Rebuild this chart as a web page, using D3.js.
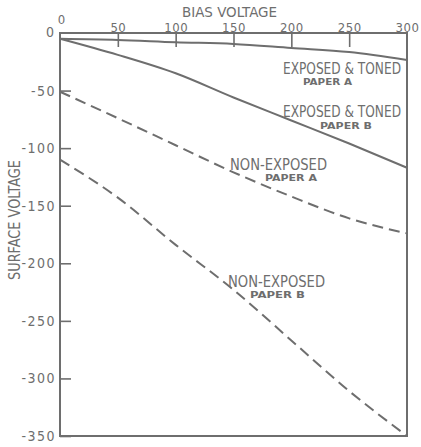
<!DOCTYPE html>
<html>
<head>
<meta charset="utf-8">
<script src="https://cdn.jsdelivr.net/npm/d3@7"></script>
<style>
  html, body { margin: 0; padding: 0; background: #fff; }
  svg { display: block; }
  text { font-family: "DejaVu Sans Condensed", "DejaVu Sans", sans-serif; fill: #6e6e6e; }
</style>
</head>
<body>
<svg id="chart" width="421" height="447"></svg>
<script>
// Bias voltage sampled every 50 V
const biasVoltage = [0, 50, 100, 150, 200, 250, 300];

// Surface voltage for each paper / treatment
const exposedTonedA = [-5, -6, -8, -9.5, -13, -16.5, -23.5];
const exposedTonedB = [-5, -19, -35, -56, -76, -96, -117];
const nonExposedA   = [-51, -74, -97.5, -121, -142, -161, -174];
const nonExposedB   = [-110, -143, -184, -223, -267, -311, -350];

const xTicks = [0, 50, 100, 150, 200, 250, 300];
const yTicks = [-50, -100, -150, -200, -250, -300, -350];

const ink = "#6e6e6e";
const svg = d3.select("#chart");

const x = d3.scaleLinear().domain([0, 300]).range([60, 407]);
const y = d3.scaleLinear().domain([-350, 0]).range([436, 33]);

// frame
svg.append("rect")
  .attr("x", x(0)).attr("y", y(0))
  .attr("width", x(300) - x(0)).attr("height", y(-350) - y(0))
  .attr("fill", "none").attr("stroke", ink).attr("stroke-width", 2);

// top axis (bias voltage)
const gx = svg.append("g")
  .attr("transform", `translate(0,${y(0)})`)
  .call(d3.axisTop(x).tickValues(xTicks).tickSizeInner(-14).tickSizeOuter(0).tickPadding(1)
        .tickFormat(d3.format("d")));
gx.select(".domain").remove();
gx.selectAll(".tick line").attr("stroke", ink).attr("stroke-width", 1.6)
  .filter(d => d === 0 || d === 300).remove();
gx.selectAll(".tick text").attr("fill", ink).attr("font-size", 13)
  .attr("font-family", "DejaVu Sans Condensed").attr("letter-spacing", 0.5)
  .attr("dy", d => d === 0 ? "-0.6em" : "0em")
  .attr("dx", d => d === 0 ? "0.1em" : "0em");

// left axis (surface voltage)
const gy = svg.append("g")
  .attr("transform", `translate(${x(0)},0)`)
  .call(d3.axisLeft(y).tickValues(yTicks).tickSizeInner(-11).tickSizeOuter(0).tickPadding(4)
        .tickFormat(d => "-" + Math.abs(d)));
gy.select(".domain").remove();
gy.selectAll(".tick line").attr("stroke", ink).attr("stroke-width", 1.6);
gy.selectAll(".tick text").attr("fill", ink).attr("font-size", 14)
  .attr("font-family", "DejaVu Sans Condensed").attr("letter-spacing", 1.5);

// the shared zero of the left axis
svg.append("text").attr("x", 54).attr("y", y(0) + 4).attr("text-anchor", "end")
  .attr("font-size", 14).text("0");

// axis titles
svg.append("text").attr("x", 182).attr("y", 17)
  .attr("font-size", 14).attr("textLength", 95).attr("lengthAdjust", "spacingAndGlyphs")
  .text("BIAS VOLTAGE");
svg.append("text")
  .attr("transform", "translate(20,280) rotate(-90)")
  .attr("font-size", 15).attr("textLength", 120).attr("lengthAdjust", "spacingAndGlyphs")
  .text("SURFACE VOLTAGE");

// curves
const line = d3.line()
  .x((d, i) => x(biasVoltage[i]))
  .y(d => y(d))
  .curve(d3.curveMonotoneX);

const curves = [
  { values: exposedTonedA, dash: null },
  { values: exposedTonedB, dash: null },
  { values: nonExposedA, dash: "11,6" },
  { values: nonExposedB, dash: "11,6" }
];
svg.selectAll("path.curve").data(curves).join("path")
  .attr("class", "curve")
  .attr("d", d => line(d.values))
  .attr("fill", "none")
  .attr("stroke", ink)
  .attr("stroke-width", 2)
  .attr("stroke-dasharray", d => d.dash);

// curve labels
const labels = [
  { t: "EXPOSED & TONED", x: 283, y: 74, w: 118, fs: 16 },
  { t: "PAPER A", x: 303, y: 85, w: 49, fs: 8 },
  { t: "EXPOSED & TONED", x: 283, y: 117, w: 118, fs: 16 },
  { t: "PAPER B", x: 320, y: 129, w: 52, fs: 8 },
  { t: "NON-EXPOSED", x: 230, y: 170, w: 97, fs: 16 },
  { t: "PAPER A", x: 265, y: 181, w: 52, fs: 8 },
  { t: "NON-EXPOSED", x: 228, y: 287, w: 97, fs: 16 },
  { t: "PAPER B", x: 250, y: 298, w: 55, fs: 8 }
];
svg.selectAll("text.lbl").data(labels).join("text")
  .attr("class", "lbl")
  .attr("x", d => d.x).attr("y", d => d.y)
  .attr("font-size", d => d.fs)
  .attr("font-weight", d => d.fs < 10 ? "bold" : "normal")
  .attr("textLength", d => d.w)
  .attr("lengthAdjust", "spacingAndGlyphs")
  .text(d => d.t);
</script>
</body>
</html>
